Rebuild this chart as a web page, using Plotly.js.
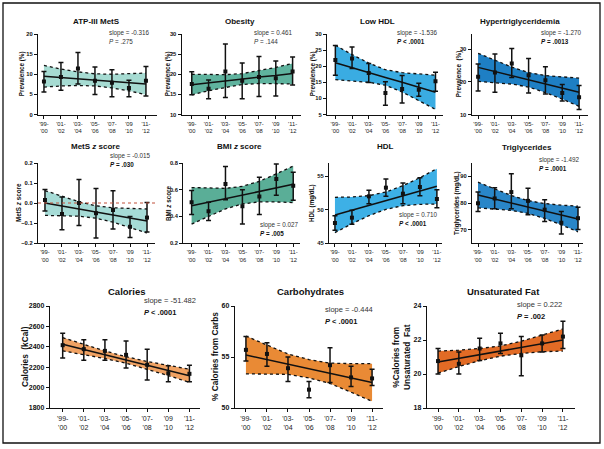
<!DOCTYPE html>
<html>
<head>
<meta charset="utf-8">
<script src="https://cdn.plot.ly/plotly-3.0.1.min.js"></script>
<style>
  html, body { margin: 0; padding: 0; background: #fff; }
  #chart { width: 604px; height: 449px; }
</style>
</head>
<body>
<div id="chart"></div>
<script>
// survey periods (x categories)
const periods = ["'99-<br>'00", "'01-<br>'02", "'03-<br>'04", "'05-<br>'06", "'07-<br>'08", "'09<br>'10", "'11-<br>'12"];

// ATP-III MetS prevalence (%)
const atpMean  = [8.2, 9.3, 11.4, 8.4, 7.9, 6.6, 8.4];
const atpLow   = [5.6, 6.0, 7.6, 5.0, 4.4, 4.4, 4.6];
const atpHigh  = [10.7, 12.9, 15.4, 11.8, 11.1, 8.5, 11.9];
const atpFit   = [9.5, 9.2, 8.9, 8.6, 8.3, 8.0, 7.6];
const atpUpper = [12.2, 11.3, 10.6, 10.1, 10.0, 10.1, 10.3];
const atpLower = [6.8, 7.1, 7.2, 7.1, 6.6, 5.9, 4.9];

// Obesity prevalence (%)
const obMean  = [17.6, 16.4, 20.7, 18.4, 19.3, 19.0, 20.7];
const obLow   = [14.9, 13.9, 14.2, 13.9, 14.5, 14.6, 17.3];
const obHigh  = [20.6, 18.6, 27.5, 22.8, 24.4, 23.3, 24.3];
const obFit   = [17.4, 17.9, 18.3, 18.8, 19.3, 19.7, 20.2];
const obUpper = [20.0, 19.9, 19.9, 20.15, 20.9, 21.7, 22.7];
const obLower = [14.9, 15.9, 16.7, 17.45, 17.7, 17.7, 17.6];

// Low HDL prevalence (%)
const lhMean  = [21.9, 22.4, 17.9, 11.7, 12.9, 12.7, 15.3];
const lhLow   = [17.2, 19.3, 14.9, 7.9, 8.6, 10.7, 12.2];
const lhHigh  = [26.4, 26.0, 20.8, 15.2, 17.1, 14.7, 18.1];
const lhFit   = [21.1, 19.5, 18.0, 16.5, 15.0, 13.4, 11.9];
const lhUpper = [26.5, 23.6, 21.0, 18.9, 18.0, 17.5, 17.2];
const lhLower = [15.8, 15.4, 15.0, 14.1, 12.0, 9.3, 6.6];

// Hypertriglyceridemia prevalence (%)
const htMean  = [21.5, 22.8, 25.6, 22.0, 20.5, 16.6, 15.3];
const htLow   = [17.2, 16.8, 21.3, 16.6, 16.3, 14.1, 11.5];
const htHigh  = [25.4, 28.5, 30.2, 27.1, 24.6, 19.2, 18.9];
const htFit   = [24.4, 23.1, 21.9, 20.6, 19.3, 18.1, 16.8];
const htUpper = [28.7, 26.5, 24.5, 22.8, 21.9, 21.5, 21.1];
const htLower = [20.1, 19.7, 19.3, 18.4, 16.7, 14.7, 12.5];

// MetS z score
const mzMean  = [0.015, -0.055, 0.0, -0.051, -0.035, -0.119, -0.073];
const mzLow   = [-0.04, -0.134, -0.112, -0.175, -0.13, -0.172, -0.145];
const mzHigh  = [0.068, 0.03, 0.117, 0.073, 0.061, -0.068, 0.002];
const mzFit   = [0.0, -0.015, -0.03, -0.045, -0.06, -0.075, -0.09];
const mzUpper = [0.062, 0.033, 0.006, -0.014, -0.024, -0.027, -0.03];
const mzLower = [-0.062, -0.063, -0.066, -0.076, -0.096, -0.123, -0.15];
const mzRef   = 0;

// BMI z score
const bzMean  = [0.505, 0.438, 0.643, 0.475, 0.548, 0.68, 0.63];
const bzLow   = [0.413, 0.368, 0.525, 0.343, 0.413, 0.558, 0.52];
const bzHigh  = [0.593, 0.505, 0.773, 0.60, 0.693, 0.793, 0.73];
const bzFit   = [0.479, 0.506, 0.533, 0.559, 0.586, 0.613, 0.640];
const bzUpper = [0.616, 0.611, 0.610, 0.625, 0.663, 0.718, 0.777];
const bzLower = [0.342, 0.401, 0.456, 0.493, 0.509, 0.508, 0.503];

// HDL (mg/dL)
const hdMean  = [48.0, 48.8, 52.0, 53.3, 52.4, 53.4, 51.6];
const hdLow   = [46.9, 47.8, 50.9, 52.0, 50.9, 52.1, 50.3];
const hdHigh  = [49.1, 49.9, 52.9, 54.6, 54.0, 54.8, 53.0];
const hdFit   = [49.2, 49.9, 50.6, 51.35, 52.1, 52.8, 53.5];
const hdUpper = [51.85, 51.9, 52.1, 52.65, 53.6, 54.8, 56.15];
const hdLower = [46.55, 47.9, 49.1, 50.05, 50.6, 50.8, 50.85];

// Triglycerides (mg/dL)
const tgMean  = [79.9, 81.7, 84.1, 80.8, 77.5, 72.6, 74.3];
const tgLow   = [76.8, 77.8, 77.8, 75.6, 73.1, 68.4, 70.1];
const tgHigh  = [84.1, 85.7, 91.0, 85.5, 81.2, 76.8, 78.4];
const tgFit   = [83.0, 81.5, 80.0, 78.5, 77.0, 75.5, 74.0];
const tgUpper = [87.8, 85.2, 82.8, 80.9, 79.8, 79.2, 78.8];
const tgLower = [78.2, 77.8, 77.2, 76.1, 74.2, 71.8, 69.2];

// Calories (kCal)
const calMean  = [2416, 2377, 2360, 2321, 2223, 2140, 2135];
const calLow   = [2289, 2269, 2269, 2191, 2074, 2057, 2057];
const calHigh  = [2533, 2469, 2469, 2458, 2377, 2214, 2220];
const calFit   = [2425, 2374, 2322, 2271, 2219, 2168, 2116];
const calUpper = [2490, 2424, 2359, 2303, 2256, 2218, 2181];
const calLower = [2360, 2324, 2285, 2239, 2182, 2118, 2051];

// % calories from carbohydrates
const cbMean  = [55.7, 55.3, 53.9, 51.8, 54.2, 53.0, 52.9];
const cbLow   = [54.6, 54.1, 52.6, 51.0, 52.5, 52.1, 52.2];
const cbHigh  = [57.0, 56.4, 55.0, 52.6, 55.9, 54.1, 53.8];
const cbFit   = [55.2, 54.75, 54.3, 53.85, 53.4, 52.95, 52.5];
const cbUpper = [57.05, 56.15, 55.3, 54.75, 54.4, 54.35, 54.35];
const cbLower = [53.35, 53.35, 53.3, 52.95, 52.4, 51.55, 50.65];

// % calories from unsaturated fat
const ufMean  = [20.76, 20.6, 21.5, 21.8, 21.1, 21.8, 22.2];
const ufLow   = [20.0, 20.0, 20.8, 21.2, 19.9, 21.3, 21.5];
const ufHigh  = [21.5, 21.3, 22.1, 22.4, 22.2, 22.3, 23.1];
const ufFit   = [20.7, 20.92, 21.14, 21.35, 21.57, 21.79, 22.0];
const ufUpper = [21.35, 21.40, 21.50, 21.65, 21.93, 22.27, 22.65];
const ufLower = [20.05, 20.44, 20.78, 21.05, 21.21, 21.31, 21.35];

const W = 604, H = 449;
const FONT = "Liberation Sans, Arial, sans-serif";
const INK = "#111";

// panel geometry in page pixels: px = [left, right], py = [top, bottom]
const panels = [
  { title: "ATP-III MetS", ytitle: "Prevalence (%)", color: "#a6dbd2",
    d: [atpMean, atpLow, atpHigh, atpFit, atpUpper, atpLower],
    slope: "slope = -0.316", p: "<i>P</i> = .275", bold: false,
    px: [38, 157], py: [34, 114.5], xr: [-0.35, 6.65], yr: [0, 20], dtick: 5,
    tx: 97, ty: 21, note: [107, 33], ytx: 22, big: false },
  { title: "Obesity", ytitle: "Prevalence (%)", color: "#5fb39e",
    d: [obMean, obLow, obHigh, obFit, obUpper, obLower],
    slope: "slope = 0.461", p: "<i>P</i> = .144", bold: false,
    px: [181.7, 301], py: [34, 114.5], xr: [-0.6, 6.5], yr: [10, 30], dtick: 5,
    tx: 240, ty: 21, note: [252, 33], ytx: 168, big: false },
  { title: "Low HDL", ytitle: "Prevalence (%)", color: "#3aace2",
    d: [lhMean, lhLow, lhHigh, lhFit, lhUpper, lhLower],
    slope: "slope = -1.536", p: "<i>P</i> &lt; .0001", bold: true,
    px: [327, 443], py: [34, 114.5], xr: [-0.5, 6.45], yr: [5, 30], dtick: 5,
    tx: 377, ty: 21, note: [395, 33], ytx: 313, big: false },
  { title: "Hypertriglyceridemia", ytitle: "Prevalence  (%)", color: "#1e7fc4",
    d: [htMean, htLow, htHigh, htFit, htUpper, htLower],
    slope: "slope = -1.270", p: "<i>P</i> = .0013", bold: true,
    px: [471.7, 588], py: [34, 114.5], xr: [-0.38, 6.53], yr: [10, 34.6], dtick: 10,
    tx: 520, ty: 21, note: [539, 33], ytx: 459, big: false },
  { title: "MetS <i>z</i> score", ytitle: "MetS <i>z</i> score", color: "#a6dbd6",
    d: [mzMean, mzLow, mzHigh, mzFit, mzUpper, mzLower],
    slope: "slope = -0.015", p: "<i>P</i> = .030", bold: true,
    px: [38, 155], py: [163, 243], xr: [-0.41, 6.47], yr: [-0.2, 0.2], dtick: 0.1, fmt: ".1f",
    tx: 95, ty: 147, note: [108, 156], ytx: 19, big: false, ref: mzRef },
  { title: "BMI <i>z</i> score", ytitle: "BMI <i>z</i> score", color: "#5aae97",
    d: [bzMean, bzLow, bzHigh, bzFit, bzUpper, bzLower],
    slope: "slope = 0.027", p: "<i>P</i> = .005", bold: true,
    px: [183.3, 300], py: [163, 243], xr: [-0.49, 6.4], yr: [0.2, 0.8], dtick: 0.2, fmt: ".1f",
    tx: 240, ty: 147, note: [258, 225], ytx: 169, big: false },
  { title: "HDL", ytitle: "HDL (mg/dL)", color: "#3db0e6",
    d: [hdMean, hdLow, hdHigh, hdFit, hdUpper, hdLower],
    slope: "slope = 0.710", p: "<i>P</i> &lt; .0001", bold: true,
    px: [329, 442], py: [163, 243], xr: [-0.35, 6.3], yr: [45, 57], dtick: 5,
    tx: 385, ty: 147, note: [397, 215], ytx: 312, big: false },
  { title: "Triglycerides", ytitle: "Triglycerides (mg/dL)", color: "#2986c8",
    d: [tgMean, tgLow, tgHigh, tgFit, tgUpper, tgLower],
    slope: "slope = -1.492", p: "<i>P</i> = .0001", bold: true,
    px: [472, 583], py: [163, 243], xr: [-0.36, 6.3], yr: [65, 95], dtick: 10,
    tx: 527, ty: 148, note: [537, 160], ytx: 457, big: false },
  { title: "Calories", ytitle: "Calories  (kCal)", color: "#f0a263",
    d: [calMean, calLow, calHigh, calFit, calUpper, calLower],
    slope: "slope = -51.482", p: "<i>P</i> &lt; .0001", bold: true,
    px: [50, 200], py: [306, 408], xr: [-0.6, 6.5], yr: [1800, 2800], dtick: 200,
    tx: 127, ty: 291, note: [142, 300], ytx: 25, big: true },
  { title: "Carbohydrates", ytitle: "% Calories from Carbs", color: "#e98a35",
    d: [cbMean, cbLow, cbHigh, cbFit, cbUpper, cbLower],
    slope: "slope = -0.444", p: "<i>P</i> &lt; .0001", bold: true,
    px: [235, 383], py: [306, 408], xr: [-0.52, 6.52], yr: [50, 60], dtick: 5,
    tx: 310, ty: 291, note: [323, 309], ytx: 215, big: true },
  { title: "Unsaturated Fat", ytitle: "%Calories from<br>Unsaturated  Fat", color: "#e26b25",
    d: [ufMean, ufLow, ufHigh, ufFit, ufUpper, ufLower],
    slope: "slope = 0.222", p: "<i>P</i> = .002", bold: true,
    px: [427, 575], py: [306, 408], xr: [-0.53, 6.58], yr: [18, 24], dtick: 2,
    tx: 503, ty: 291, note: [515, 304], ytx: 401, big: true }
];

const data = [];
const layout = {
  width: W, height: H,
  margin: { l: 0, r: 0, t: 0, b: 0 },
  paper_bgcolor: "#fff", plot_bgcolor: "rgba(0,0,0,0)",
  showlegend: false,
  font: { family: FONT, color: INK },
  annotations: [],
  shapes: [
    // outer frame
    { type: "rect", xref: "paper", yref: "paper",
      x0: 3 / W, x1: 600 / W, y0: 1 - 443 / H, y1: 1 - 3 / H,
      line: { color: INK, width: 1.3 } }
  ]
};

const fx = v => v / W;
const fy = v => 1 - v / H;

panels.forEach((p, i) => {
  const n = i + 1;
  const xa = n === 1 ? "x" : "x" + n;
  const ya = n === 1 ? "y" : "y" + n;
  const [mean, low, high, fit, upper, lower] = p.d;
  const dotted = { color: INK, width: 1.3, dash: "dot" };

  data.push({ x: periods, y: lower, xaxis: xa, yaxis: ya, mode: "lines",
    line: dotted, hoverinfo: "skip" });
  data.push({ x: periods, y: upper, xaxis: xa, yaxis: ya, mode: "lines",
    line: dotted, fill: "tonexty", fillcolor: p.color, hoverinfo: "skip" });
  data.push({ x: periods, y: fit, xaxis: xa, yaxis: ya, mode: "lines",
    line: { color: INK, width: 1.5 }, hoverinfo: "skip" });
  data.push({ x: periods, y: mean, xaxis: xa, yaxis: ya, mode: "markers",
    marker: { symbol: "square", size: 4, color: INK },
    error_y: { type: "data", symmetric: false,
      array: high.map((h, k) => h - mean[k]),
      arrayminus: low.map((l, k) => mean[k] - l),
      color: INK, thickness: 1.5, width: 2.5 } });

  const tickSize = p.big ? 7 : 5.8;
  layout["xaxis" + (n === 1 ? "" : n)] = {
    domain: [fx(p.px[0]), fx(p.px[1])], anchor: ya, type: "category",
    range: p.xr, showgrid: false, zeroline: false,
    showline: true, linecolor: INK, linewidth: 1.2,
    ticks: "outside", ticklen: 3, tickwidth: 1, tickcolor: INK,
    tickfont: { family: FONT, size: tickSize, color: "#222" }, fixedrange: true
  };
  layout["yaxis" + (n === 1 ? "" : n)] = {
    domain: [fy(p.py[1]), fy(p.py[0])], anchor: xa,
    range: p.yr, dtick: p.dtick, tickformat: p.fmt || "",
    showgrid: false, zeroline: false,
    showline: true, linecolor: INK, linewidth: 1.2,
    ticks: "outside", ticklen: 3, tickwidth: 1, tickcolor: INK,
    tickfont: { family: FONT, size: tickSize, color: INK, weight: "bold" }, fixedrange: true
  };

  if (p.ref !== undefined) {
    layout.shapes.push({ type: "line", xref: xa + " domain", yref: ya,
      x0: 0, x1: 1, y0: p.ref, y1: p.ref,
      line: { color: "#c0503a", width: 1, dash: "dot" } });
  }

  // panel title
  layout.annotations.push({ xref: "paper", yref: "paper", x: fx(p.tx), y: fy(p.ty),
    text: "<b>" + p.title + "</b>", showarrow: false, xanchor: "center", yanchor: "middle",
    font: { family: FONT, size: p.big ? 9.5 : 8, color: INK } });
  // y axis title
  layout.annotations.push({ xref: "paper", yref: "paper", x: fx(p.ytx),
    y: (fy(p.py[0]) + fy(p.py[1])) / 2, textangle: -90,
    text: "<b>" + p.ytitle + "</b>", showarrow: false, xanchor: "center", yanchor: "middle",
    font: { family: FONT, size: p.big ? 8.3 : 6.3, color: INK } });
  // slope + P
  const noteSize = p.big ? 7.5 : 6.3;
  layout.annotations.push({ xref: "paper", yref: "paper", x: fx(p.note[0]), y: fy(p.note[1]),
    text: p.slope, showarrow: false, xanchor: "left", yanchor: "middle",
    font: { family: FONT, size: noteSize, color: "#333" } });
  layout.annotations.push({ xref: "paper", yref: "paper", x: fx(p.note[0]),
    y: fy(p.note[1] + (p.big ? 12.5 : 8.5)),
    text: p.bold ? "<b>" + p.p + "</b>" : p.p, showarrow: false, xanchor: "left", yanchor: "middle",
    font: { family: FONT, size: noteSize, color: p.bold ? INK : "#333" } });
});

Plotly.newPlot("chart", data, layout, { displayModeBar: false, staticPlot: true });
</script>
</body>
</html>
